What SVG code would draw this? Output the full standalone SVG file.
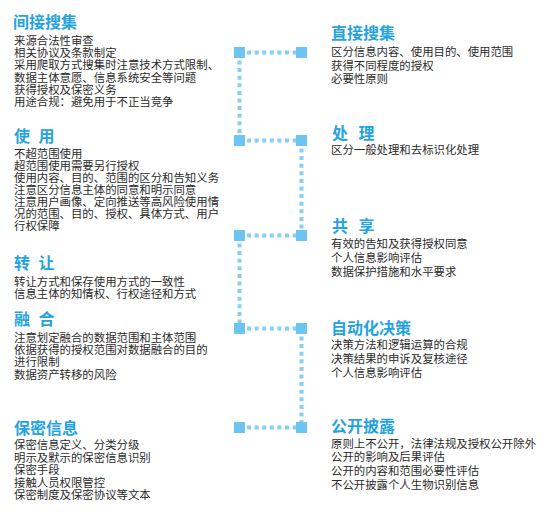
<svg xmlns="http://www.w3.org/2000/svg" width="553" height="527" viewBox="0 0 553 527">
<style>
.t{font-family:"Noto Sans CJK SC","Noto Sans CJK TC",sans-serif;font-size:16px;font-weight:bold;fill:#25A3E0}
.b{font-family:"Noto Sans CJK SC","Noto Sans CJK TC",sans-serif;font-size:11.4px;fill:#2b2b2b}
.sq{fill:#6CC4F2}
.dl{fill:none;stroke:#88CFF3;stroke-width:4;stroke-dasharray:4 3.6}
</style>
<rect width="553" height="527" fill="#ffffff"/>
<g id="connectors">
<path class="dl" d="M247 52.5H296"/>
<path class="dl" d="M239.5 60.5V135"/>
<path class="dl" d="M247 140.5H296"/>
<path class="dl" d="M301.5 148.5V230"/>
<path class="dl" d="M247 235.5H296"/>
<path class="dl" d="M239.5 243.5V323"/>
<path class="dl" d="M247 328.5H296"/>
<path class="dl" d="M301.5 336.5V422"/>
<path class="dl" d="M247 427.5H296"/>
<rect class="sq" x="234" y="47" width="11" height="11"/>
<rect class="sq" x="296" y="47" width="11" height="11"/>
<rect class="sq" x="234" y="135" width="11" height="11"/>
<rect class="sq" x="296" y="135" width="11" height="11"/>
<rect class="sq" x="234" y="230" width="11" height="11"/>
<rect class="sq" x="296" y="230" width="11" height="11"/>
<rect class="sq" x="234" y="323" width="11" height="11"/>
<rect class="sq" x="296" y="323" width="11" height="11"/>
<rect class="sq" x="234" y="422" width="11" height="11"/>
<rect class="sq" x="296" y="422" width="11" height="11"/>
</g>
<g id="indirect">
<text class="t" x="13" y="28">间接搜集</text>
<text class="b" x="14" y="45">来源合法性审查</text>
<text class="b" x="14" y="57.2">相关协议及条款制定</text>
<text class="b" x="14" y="69.4">采用爬取方式搜集时注意技术方式限制、</text>
<text class="b" x="14" y="81.6">数据主体意愿、信息系统安全等问题</text>
<text class="b" x="14" y="93.8">获得授权及保密义务</text>
<text class="b" x="14" y="106">用途合规：避免用于不正当竞争</text>
</g>
<g id="use">
<text class="t" x="14 38.5" y="142">使用</text>
<text class="b" x="14" y="157.6">不超范围使用</text>
<text class="b" x="14" y="169.7">超范围使用需要另行授权</text>
<text class="b" x="14" y="181.8">使用内容、目的、范围的区分和告知义务</text>
<text class="b" x="14" y="193.9">注意区分信息主体的同意和明示同意</text>
<text class="b" x="14" y="206">注意用户画像、定向推送等高风险使用情</text>
<text class="b" x="14" y="218.1">况的范围、目的、授权、具体方式、用户</text>
<text class="b" x="14" y="230.2">行权保障</text>
</g>
<g id="transfer">
<text class="t" x="14 38.5" y="269.4">转让</text>
<text class="b" x="14" y="286">转让方式和保存使用方式的一致性</text>
<text class="b" x="14" y="298.3">信息主体的知情权、行权途径和方式</text>
</g>
<g id="fusion">
<text class="t" x="14 38.5" y="325.4">融合</text>
<text class="b" x="14" y="341.6">注意划定融合的数据范围和主体范围</text>
<text class="b" x="14" y="354">依据获得的授权范围对数据融合的目的</text>
<text class="b" x="14" y="366.4">进行限制</text>
<text class="b" x="14" y="378.8">数据资产转移的风险</text>
</g>
<g id="confidential">
<text class="t" x="14" y="434.4">保密信息</text>
<text class="b" x="14" y="449.3">保密信息定义、分类分级</text>
<text class="b" x="14" y="461.7">明示及默示的保密信息识别</text>
<text class="b" x="14" y="474.1">保密手段</text>
<text class="b" x="14" y="486.5">接触人员权限管控</text>
<text class="b" x="14" y="498.9">保密制度及保密协议等文本</text>
</g>
<g id="direct">
<text class="t" x="331" y="39.4">直接搜集</text>
<text class="b" x="331" y="56">区分信息内容、使用目的、使用范围</text>
<text class="b" x="331" y="69.7">获得不同程度的授权</text>
<text class="b" x="331" y="83.4">必要性原则</text>
</g>
<g id="process">
<text class="t" x="332 358.5" y="139.4">处理</text>
<text class="b" x="331" y="154.3">区分一般处理和去标识化处理</text>
</g>
<g id="share">
<text class="t" x="332 358.5" y="232">共享</text>
<text class="b" x="331" y="248.3">有效的告知及获得授权同意</text>
<text class="b" x="331" y="262">个人信息影响评估</text>
<text class="b" x="331" y="275.7">数据保护措施和水平要求</text>
</g>
<g id="automated">
<text class="t" x="331" y="334.4">自动化决策</text>
<text class="b" x="331" y="349.3">决策方法和逻辑运算的合规</text>
<text class="b" x="331" y="363">决策结果的申诉及复核途径</text>
<text class="b" x="331" y="376.7">个人信息影响评估</text>
</g>
<g id="disclosure">
<text class="t" x="331" y="432">公开披露</text>
<text class="b" x="331" y="447.6">原则上不公开，法律法规及授权公开除外</text>
<text class="b" x="331" y="461.4">公开的影响及后果评估</text>
<text class="b" x="331" y="475.2">公开的内容和范围必要性评估</text>
<text class="b" x="331" y="489">不公开披露个人生物识别信息</text>
</g>
</svg>
